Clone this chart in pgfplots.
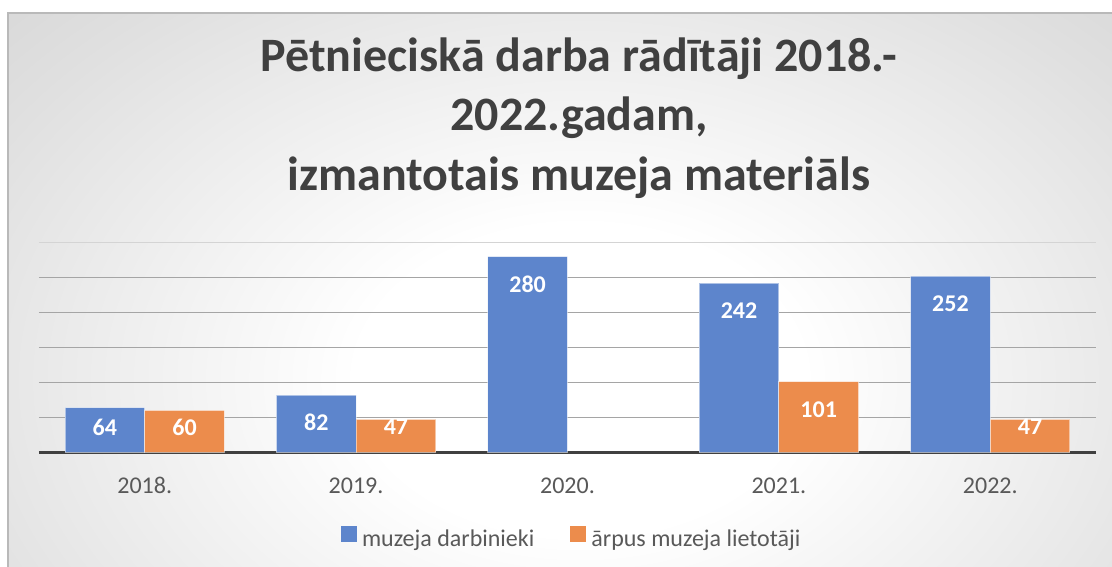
\documentclass[border=0pt]{standalone}
\usepackage{pgfplots}
\pgfplotsset{compat=1.18}
\usepackage{pgfplotstable}
\usepackage{fontspec}
\setmainfont{Carlito}
\definecolor{barblue}{RGB}{93,133,204}
\definecolor{barorange}{RGB}{236,140,76}
\definecolor{titlegray}{RGB}{64,64,64}
\definecolor{labgray}{RGB}{89,89,89}
\definecolor{gridgray}{RGB}{165,165,165}
\definecolor{topgrid}{RGB}{212,212,212}
\definecolor{edgegray}{RGB}{196,196,196}
\definecolor{midgray}{RGB}{224,224,224}
\definecolor{framegray}{RGB}{185,185,185}
\pgfdeclareradialshading{bgshade}{\pgfpoint{0bp}{0bp}}{color(0bp)=(white); color(9bp)=(white); color(27bp)=(midgray); color(46bp)=(edgegray); color(75bp)=(edgegray)}

\pgfplotstableread{
x y off
0 64 -19.4
1 82 -27.5
2 280 -27.5
3 242 -27.5
4 252 -27.5
}\tblA
\pgfplotstableread{
x y off
0 60 -16.6
1 47 -7
3 101 -27.5
4 47 -7
}\tblB

\begin{document}
\begin{tikzpicture}[x=1pt,y=1pt]
\useasboundingbox (0,0) rectangle (1112,-567);
\begin{scope}
\clip (8,-13) rectangle (1112,-567);
\shade[shading=bgshade] (-40,50) rectangle (1200,-810);
\end{scope}
\draw[framegray, line width=1.5pt] (8,-567) -- (8,-13) -- (1112,-13);

\node[anchor=base, font=\fontsize{48}{59}\selectfont\bfseries, text=titlegray] at (579,-72) {Pētnieciskā darba rādītāji 2018.-};
\node[anchor=base, font=\fontsize{48}{59}\selectfont\bfseries, text=titlegray] at (579,-131) {2022.gadam,};
\node[anchor=base, font=\fontsize{48}{59}\selectfont\bfseries, text=titlegray] at (579,-190) {izmantotais muzeja materiāls};

\begin{axis}[
  at={(39pt,-452.3pt)}, anchor=south west,
  scale only axis, width=1057pt, height=209.6pt,
  xmin=-0.5, xmax=4.5, ymin=0, ymax=300,
  ybar, bar width=0.377,
  /pgf/number format/assume math mode=true,
  axis line style={draw=none},
  tick style={draw=none},
  xtick={0,1,2,3,4},
  xticklabels={2018.,2019.,2020.,2021.,2022.},
  xticklabel style={font=\fontsize{24}{28}\selectfont, text=labgray, anchor=center, yshift=-29pt},
  ytick={50,100,150,200,250},
  yticklabels={},
  minor ytick={300},
  ymajorgrids, yminorgrids,
  major grid style={gridgray, line width=1.2pt},
  minor grid style={topgrid, line width=1.2pt},
  extra y ticks={0},
  extra y tick labels={},
  extra y tick style={major grid style={titlegray, line width=3pt}},
  legend style={at={(0.504,-0.409)}, anchor=center, draw=none, fill=none,
    legend columns=2, font=\fontsize{24}{28}\selectfont, text=labgray,
    /tikz/every even column/.append style={column sep=34pt}},
  legend image code/.code={\fill[#1, draw=none] (0pt,-4pt) rectangle (16pt,12pt); \path[draw=none, fill=none] (0pt,-4pt) rectangle (19pt,12pt);},
]
\addplot[fill=barblue, draw=white, draw opacity=0.5, line width=1pt, bar shift=-0.1885,
  nodes near coords, nodes near coords align=center,
  visualization depends on={\thisrow{off} \as \off},
  every node near coord/.append style={anchor=center, yshift=\off pt, text=white, font=\fontsize{24}{28}\selectfont\bfseries}]
  table[x=x,y=y]{\tblA};
\addlegendentry{muzeja darbinieki}
\addplot[fill=barorange, draw=white, draw opacity=0.5, line width=1pt, bar shift=0.1885,
  nodes near coords, nodes near coords align=center,
  visualization depends on={\thisrow{off} \as \off},
  every node near coord/.append style={anchor=center, yshift=\off pt, text=white, font=\fontsize{24}{28}\selectfont\bfseries}]
  table[x=x,y=y]{\tblB};
\addlegendentry{ārpus muzeja lietotāji}
\end{axis}
\end{tikzpicture}
\end{document}
